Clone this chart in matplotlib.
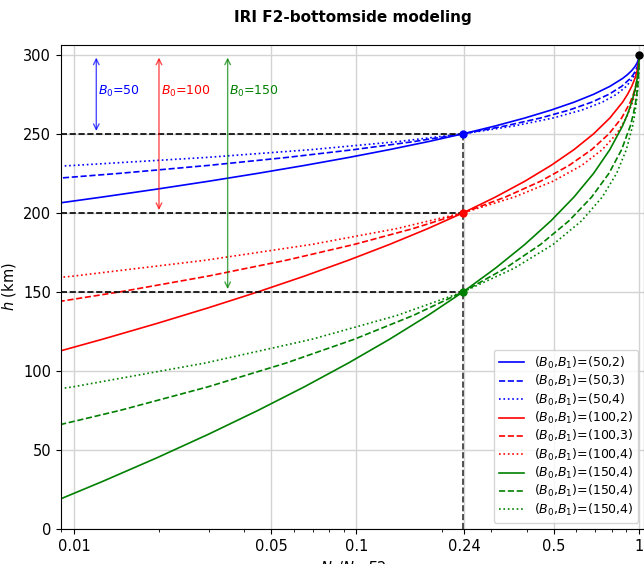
import numpy as np
from matplotlib import pyplot as plt
from matplotlib.ticker import NullFormatter

# heights (km) sampled along each profile, one list per B0
h_b0_50 = [300, 297.5, 295, 292.5, 290, 287.5, 285, 280, 275, 270, 265, 260,
           255, 250, 245, 240, 235, 230, 225, 220, 215, 210, 205, 200]
h_b0_100 = [300, 295, 290, 285, 280, 275, 270, 260, 250, 240, 230, 220,
            210, 200, 190, 180, 170, 160, 150, 140, 130, 120, 110, 100]
h_b0_150 = [300, 292.5, 285, 277.5, 270, 262.5, 255, 240, 225, 210, 195, 180,
            165, 150, 135, 120, 105, 90, 75, 60, 45, 30, 15, 0]

# Ne/NmF2 at those heights, one list per B1 (same for every B0)
ne_b1_2 = [1.0, 0.99626, 0.98512, 0.96685, 0.94189, 0.91080, 0.87429, 0.78824,
           0.69066, 0.58853, 0.48808, 0.39426, 0.31042, 0.23841, 0.17872, 0.13085,
           0.09362, 0.06549, 0.04480, 0.02999, 0.01965, 0.01260, 0.00792, 0.00487]
ne_b1_3 = [1.0, 0.99863, 0.99403, 0.98552, 0.97252, 0.95451, 0.93114, 0.86766,
           0.78262, 0.67968, 0.56537, 0.44809, 0.33661, 0.23841, 0.15835, 0.09811,
           0.05639, 0.02990, 0.01455, 0.00645, 0.00260, 0.00094, 0.00031, 0.00009]
ne_b1_4 = [1.0, 0.99875, 0.99492, 0.98835, 0.97876, 0.96576, 0.94891, 0.90163,
           0.83309, 0.74101, 0.62665, 0.49641, 0.36207, 0.23841, 0.13862, 0.06944,
           0.02917, 0.00998, 0.00269, 0.00055, 0.00008, 0.000009, 0.0000006, 0.00000003]

hmf2 = 300
ne_at_b0 = 0.2384          # Ne/NmF2 at h = hmF2 - B0
b0_heights = [250, 200, 150]
b0_values = [50, 100, 150]
arrow_x = [0.012, 0.02, 0.035]

colors = ["blue", "red", "green"]
styles = ["-", "--", ":"]
h_lists = [h_b0_50, h_b0_100, h_b0_150]
ne_lists = [ne_b1_2, ne_b1_3, ne_b1_4]
labels = [
    ["($B_0$,$B_1$)=(50,2)", "($B_0$,$B_1$)=(50,3)", "($B_0$,$B_1$)=(50,4)"],
    ["($B_0$,$B_1$)=(100,2)", "($B_0$,$B_1$)=(100,3)", "($B_0$,$B_1$)=(100,4)"],
    ["($B_0$,$B_1$)=(150,4)", "($B_0$,$B_1$)=(150,4)", "($B_0$,$B_1$)=(150,4)"],
]

xticks = [0.01, 0.05, 0.1, 0.24, 0.5, 1]
xticklabels = ["0.01", "0.05", "0.1", "0.24", "0.5", "1"]

fig = plt.figure(figsize=(6.44, 5.64), dpi=100)
ax = fig.add_axes([0.0947, 0.0621, 0.906, 0.8576])

for i, c in enumerate(colors):
    for j, ls in enumerate(styles):
        ax.plot(ne_lists[j], h_lists[i], color=c, ls=ls, lw=1.2, label=labels[i][j])

for hb in b0_heights:
    ax.plot([0.005, ne_at_b0], [hb, hb], "k--", lw=1.2)
ax.plot([ne_at_b0, ne_at_b0], [0, b0_heights[0]], "k--", lw=1.2, alpha=0.8)

ax.plot(1, hmf2, "ko", ms=5)
for hb, c in zip(b0_heights, colors):
    ax.plot(ne_at_b0, hb, "o", color=c, ms=5)

for xa, hb, b0, c in zip(arrow_x, b0_heights, b0_values, colors):
    ax.annotate("", xy=(xa, hmf2), xytext=(xa, hb),
                arrowprops=dict(arrowstyle="<->", color=c, lw=1, alpha=0.7))
    ax.text(xa * 1.015, 277, "$B_0$=%d" % b0, color=c, fontsize=9, va="center")

ax.set_xscale("log")
ax.set_xlim(0.009, 1.045)
ax.set_ylim(0, 306)
ax.set_xticks(xticks)
ax.set_xticklabels(xticklabels)
ax.xaxis.set_minor_formatter(NullFormatter())
ax.set_yticks(np.arange(0, 301, 50))
ax.tick_params(labelsize=10.5)
ax.grid(True, color="lightgray", lw=1)
ax.set_axisbelow(True)

ax.set_xlabel("$N_e/NmF2$", fontsize=10.5)
ax.set_ylabel("$h$ (km)", fontsize=10.5)
ax.set_title("IRI F2-bottomside modeling", fontsize=11, fontweight="bold", pad=17)
ax.legend(loc="lower right", fontsize=9, labelspacing=0.18)

plt.savefig("out.png", dpi=100)
